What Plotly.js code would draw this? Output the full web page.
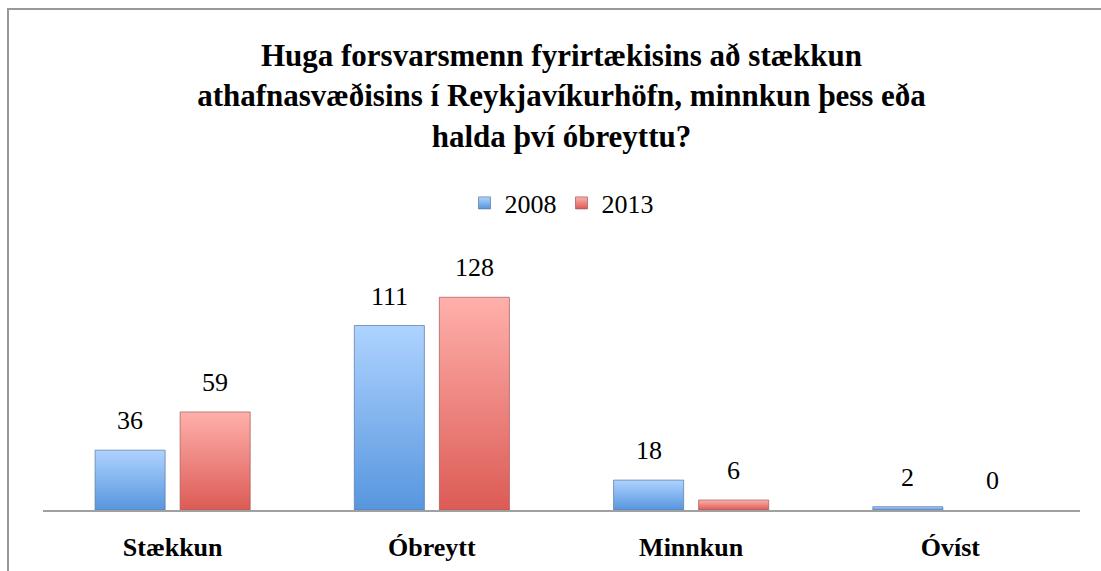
<!DOCTYPE html>
<html>
<head>
<meta charset="utf-8">
<script src="https://cdn.plot.ly/plotly-3.0.1.min.js"></script>
<style>
  html, body { margin: 0; padding: 0; background: #fff; overflow: hidden; }
  #wrap { position: relative; width: 1101px; height: 571px; }
  #chart { position: absolute; left: 0; top: 0; width: 1101px; height: 571px; }
  #frame { position: absolute; left: 7px; top: 8px; width: 1200px; height: 700px;
           border-top: 2px solid #999; border-left: 2px solid #999; pointer-events: none; }
</style>
</head>
<body>
<div id="wrap">
  <div id="chart"></div>
  <div id="frame"></div>
</div>
<script>
const categories = ["Stækkun", "Óbreytt", "Minnkun", "Óvíst"];
const seriesNames = ["2008", "2013"];
const values2008 = [36, 111, 18, 2];
const values2013 = [59, 128, 6, 0];
const chartTitle = "Huga forsvarsmenn fyrirtækisins að stækkun<br>athafnasvæðisins í Reykjavíkurhöfn, minnkun þess eða<br>halda því óbreyttu?";

const serif = '"Liberation Serif", serif';
const seriesValues = [values2008, values2013];
const baseColors = ["#7AB0EC", "#EE7E78"];
const lineColors = ["rgba(90,120,160,0.7)", "rgba(160,90,90,0.7)"];
const shifts = [-42.5, 42.5];

const traces = seriesNames.map((name, i) => ({
  type: "bar",
  name: name,
  x: categories,
  y: seriesValues[i],
  marker: {
    color: baseColors[i],
    line: { color: lineColors[i], width: seriesValues[i].map(v => (v === 0 ? 0 : 1)) }
  },
  hoverinfo: "skip"
}));

const annotations = [];
seriesValues.forEach((vals, i) => {
  vals.forEach((v, j) => {
    annotations.push({
      x: categories[j], y: v, xref: "x", yref: "y",
      text: String(v), showarrow: false,
      xanchor: "center", yanchor: "bottom",
      xshift: shifts[i], yshift: 13,
      font: { family: serif, size: 26, color: "#000" }
    });
  });
});

const layout = {
  width: 1101, height: 571,
  margin: { l: 43, r: 21, t: 240, b: 61 },
  font: { family: serif },
  paper_bgcolor: "rgba(0,0,0,0)", plot_bgcolor: "rgba(0,0,0,0)",
  title: {
    text: chartTitle,
    font: { family: serif, size: 31, color: "#000", weight: "bold" },
    x: 0.5, xref: "paper", xanchor: "center",
    y: 1 - 66 / 571, yref: "container", yanchor: "top"
  },
  barmode: "group",
  bargap: 0.344,
  bargroupgap: 0.176,
  showlegend: true,
  legend: {
    orientation: "h", x: 0.5, xanchor: "center",
    y: 1 + 37 / 270, yanchor: "middle",
    font: { family: serif, size: 26, color: "#000" },
    itemwidth: 30, tracegroupgap: 0
  },
  xaxis: {
    type: "category",
    showline: true, linecolor: "#A0A0A0", linewidth: 2,
    ticks: "", showgrid: false, zeroline: false,
    tickfont: { family: serif, size: 26, color: "#000", weight: "bold" },
    ticklabelstandoff: 13,
    fixedrange: true
  },
  yaxis: {
    range: [0, 270 / 1.662],
    visible: false, showgrid: false, zeroline: false, fixedrange: true
  },
  annotations: annotations
};

Plotly.newPlot("chart", traces, layout, { displayModeBar: false, staticPlot: true }).then(gd => {
  const svg = gd.querySelector(".main-svg");
  const ns = "http://www.w3.org/2000/svg";
  let defs = svg.querySelector("defs");
  if (!defs) { defs = document.createElementNS(ns, "defs"); svg.insertBefore(defs, svg.firstChild); }
  const grads = [
    ["gradBlue", "#AED3FF", "#5796DE"],
    ["gradRed", "#FFB0AB", "#DC5B55"]
  ];
  grads.forEach(([id, c1, c2]) => {
    const lg = document.createElementNS(ns, "linearGradient");
    lg.setAttribute("id", id);
    lg.setAttribute("x1", "0"); lg.setAttribute("y1", "0");
    lg.setAttribute("x2", "0"); lg.setAttribute("y2", "1");
    [["0", c1], ["1", c2]].forEach(([o, c]) => {
      const s = document.createElementNS(ns, "stop");
      s.setAttribute("offset", o); s.setAttribute("stop-color", c);
      lg.appendChild(s);
    });
    defs.appendChild(lg);
  });
  gd.querySelectorAll(".barlayer .trace.bars").forEach((t, i) => {
    t.querySelectorAll("path").forEach(p => { p.style.fill = "url(#" + grads[i][0] + ")"; });
  });
  gd.querySelectorAll(".legend .traces").forEach((t, i) => {
    t.querySelectorAll(".legendpoints path").forEach(p => { p.style.fill = "url(#" + grads[i][0] + ")"; });
  });
});
</script>
</body>
</html>
